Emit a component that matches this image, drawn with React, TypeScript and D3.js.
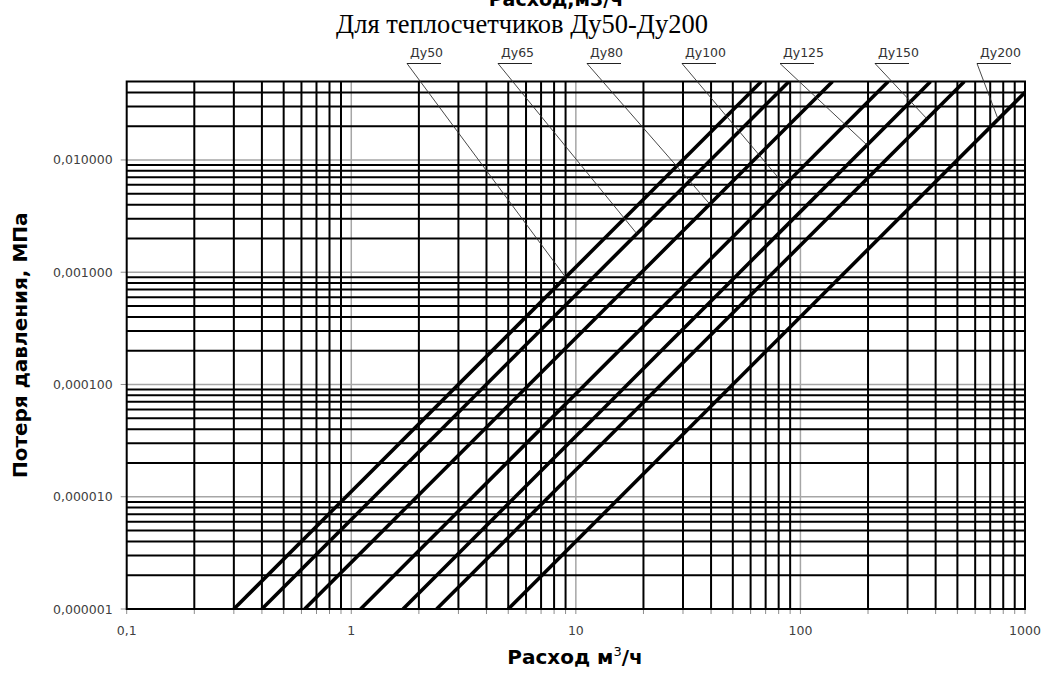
import React, { useEffect, useRef } from "react";
import * as d3 from "d3";

// ---- data ----
const seriesNames = ["Ду50", "Ду65", "Ду80", "Ду100", "Ду125", "Ду150", "Ду200"];
// flow (m3/h) at the lowest pressure loss 0.000001 MPa
const flowAtMin = [0.3, 0.4, 0.62, 1.1, 1.7, 2.4, 5.0];
const lossAtMin = [0.000001, 0.000001, 0.000001, 0.000001, 0.000001, 0.000001, 0.000001];
// flow (m3/h) at the upper end of each line
const flowAtMax = [67, 89, 139, 246, 380, 537, 1000];
const lossAtMax = [0.05, 0.05, 0.05, 0.05, 0.05, 0.05, 0.04];
// flow where each label leader touches its line
const labelFlow = [9, 18.7, 39.5, 85, 198, 366, 759];

const xTickValues = [0.1, 1, 10, 100, 1000];
const xTickLabels = ["0,1", "1", "10", "100", "1000"];
const yTickValues = [0.000001, 0.00001, 0.0001, 0.001, 0.01];
const yTickLabels = ["0,000001", "0,000010", "0,000100", "0,001000", "0,010000"];

const titleText = "Расход,м3/ч";
const subtitleText = "Для теплосчетчиков Ду50-Ду200";
const yAxisTitle = "Потеря давления, МПа";

export default function App() {
  const ref = useRef<SVGSVGElement>(null);

  useEffect(() => {
    const W = 1044, H = 675;
    const L = 126.7, R = 1025, T = 81.5, B = 609;
    const svg = d3.select(ref.current);
    svg.selectAll("*").remove();

    const x = d3.scaleLog().domain([0.1, 1000]).range([L, R]);
    const y = d3.scaleLog().domain([0.000001, 0.05]).range([B, T]);

    svg.append("rect").attr("width", W).attr("height", H).attr("fill", "#fff");

    const sans = "'DejaVu Sans', Verdana, sans-serif";

    const xMinor: number[] = [];
    const xMajor: number[] = [];
    [0.1, 1, 10, 100].forEach((d, i) => {
      if (i > 0) xMajor.push(d);
      for (let k = 2; k <= 9; k++) xMinor.push(+(k * d).toPrecision(3));
    });
    const yMinor: number[] = [];
    const yMajor: number[] = [];
    [0.000001, 0.00001, 0.0001, 0.001, 0.01].forEach((d, i) => {
      if (i > 0) yMajor.push(d);
      for (let k = 2; k <= 9; k++) {
        const v = +(k * d).toPrecision(3);
        if (v < 0.05) yMinor.push(v);
      }
    });

    const g = svg.append("g");
    g.selectAll(".xmaj").data(xMajor).enter().append("line")
      .attr("x1", (d) => x(d)).attr("x2", (d) => x(d)).attr("y1", T).attr("y2", B)
      .attr("stroke", "#a6a6a6").attr("stroke-width", 1.5);
    g.selectAll(".ymaj").data(yMajor).enter().append("line")
      .attr("y1", (d) => y(d)).attr("y2", (d) => y(d)).attr("x1", L).attr("x2", R)
      .attr("stroke", "#a6a6a6").attr("stroke-width", 1.5);
    g.selectAll(".xmin").data(xMinor).enter().append("line")
      .attr("x1", (d) => x(d)).attr("x2", (d) => x(d)).attr("y1", T).attr("y2", B)
      .attr("stroke", "#000").attr("stroke-width", 2);
    g.selectAll(".ymin").data(yMinor).enter().append("line")
      .attr("y1", (d) => y(d)).attr("y2", (d) => y(d)).attr("x1", L).attr("x2", R)
      .attr("stroke", "#000").attr("stroke-width", 2);

    g.selectAll(".xt").data([...xTickValues, ...xMinor]).enter().append("line")
      .attr("x1", (d) => x(d)).attr("x2", (d) => x(d)).attr("y1", B).attr("y2", B + 5)
      .attr("stroke", "#8c8c8c").attr("stroke-width", 1);
    g.selectAll(".yt").data(yTickValues).enter().append("line")
      .attr("x1", L - 6).attr("x2", L).attr("y1", (d) => y(d)).attr("y2", (d) => y(d))
      .attr("stroke", "#8c8c8c").attr("stroke-width", 1);

    g.append("rect").attr("x", L).attr("y", T).attr("width", R - L).attr("height", B - T)
      .attr("fill", "none").attr("stroke", "#000").attr("stroke-width", 2);

    g.selectAll(".xl").data(xTickValues).enter().append("text")
      .attr("x", (d) => x(d)).attr("y", B + 26).attr("text-anchor", "middle")
      .attr("font-family", sans).attr("font-size", 12.5).attr("fill", "#404040")
      .text((_, i) => xTickLabels[i]);
    g.selectAll(".yl").data(yTickValues).enter().append("text")
      .attr("x", L - 14).attr("y", (d) => y(d) + 4.5).attr("text-anchor", "end")
      .attr("font-family", sans).attr("font-size", 12.5).attr("fill", "#404040")
      .text((_, i) => yTickLabels[i]);

    svg.append("clipPath").attr("id", "plotclip").append("rect")
      .attr("x", L).attr("y", T).attr("width", R - L).attr("height", B - T);
    const line = d3.line<[number, number]>().x((d) => x(d[0])).y((d) => y(d[1]));
    const sg = svg.append("g").attr("clip-path", "url(#plotclip)");
    seriesNames.forEach((_, i) => {
      sg.append("path")
        .attr("d", line([[flowAtMin[i], lossAtMin[i]], [flowAtMax[i], lossAtMax[i]]]))
        .attr("fill", "none").attr("stroke", "#000").attr("stroke-width", 3.6);
    });

    const LABEL_X = [407, 498, 587, 682, 780, 875, 977];
    const UNDER_Y = 63.5;
    seriesNames.forEach((name, i) => {
      const s = Math.log(lossAtMax[i] / lossAtMin[i]) / Math.log(flowAtMax[i] / flowAtMin[i]);
      const q = labelFlow[i];
      const p = lossAtMin[i] * Math.pow(q / flowAtMin[i], s);
      const lx = LABEL_X[i];
      svg.append("line").attr("x1", lx).attr("y1", UNDER_Y).attr("x2", x(q)).attr("y2", y(p))
        .attr("stroke", "#333").attr("stroke-width", 0.9);
      svg.append("line").attr("x1", lx).attr("y1", UNDER_Y).attr("x2", lx + 34).attr("y2", UNDER_Y)
        .attr("stroke", "#222").attr("stroke-width", 1.1);
      svg.append("text").attr("x", lx + 3).attr("y", 56.5)
        .attr("font-family", sans).attr("font-size", 12.5).attr("fill", "#333").text(name);
    });

    svg.append("text").attr("x", 556).attr("y", 6).attr("text-anchor", "middle")
      .attr("font-family", sans).attr("font-weight", "bold").attr("font-size", 19)
      .attr("fill", "#000").text(titleText);
    svg.append("text").attr("x", 522).attr("y", 33).attr("text-anchor", "middle")
      .attr("font-family", "'Liberation Serif', 'Times New Roman', serif").attr("font-size", 26.5)
      .attr("fill", "#000").text(subtitleText);

    svg.append("text")
      .attr("transform", `translate(27, ${(T + B) / 2}) rotate(-90)`)
      .attr("text-anchor", "middle").attr("font-family", sans).attr("font-weight", "bold")
      .attr("font-size", 20).attr("fill", "#000").text(yAxisTitle);

    const xt = svg.append("text").attr("x", 575).attr("y", 664).attr("text-anchor", "middle")
      .attr("font-family", sans).attr("font-weight", "bold").attr("font-size", 20).attr("fill", "#000");
    xt.append("tspan").text("Расход м");
    xt.append("tspan").attr("dy", -8).attr("font-size", 13).attr("font-weight", "normal").text("3");
    xt.append("tspan").attr("dy", 8).text("/ч");
  }, []);

  return (
    <svg ref={ref} width={1044} height={675}
      style={{ position: "absolute", left: 0, top: 0, display: "block" }} />
  );
}
